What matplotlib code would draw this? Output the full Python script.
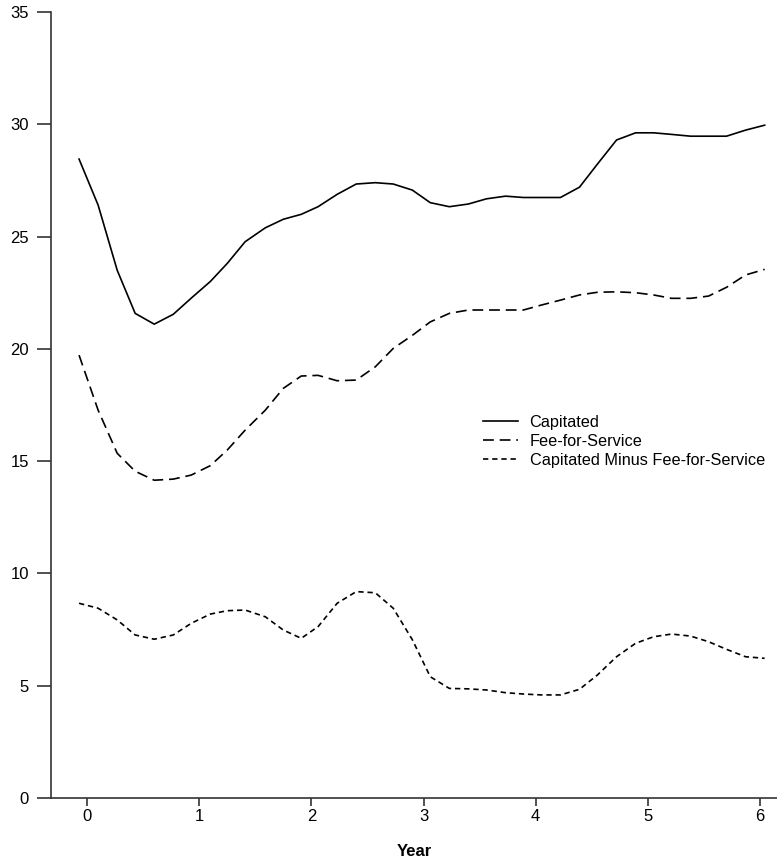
import matplotlib
matplotlib.use("Agg")
import matplotlib.pyplot as plt

plt.rcParams['font.family'] = ['Liberation Sans', 'DejaVu Sans']

# year positions of the plotted points (roughly every two months)
years = [-0.07, 0.10, 0.27, 0.43, 0.60, 0.77, 0.93, 1.10, 1.25, 1.41,
         1.59, 1.75, 1.91, 2.06, 2.23, 2.40, 2.57, 2.73, 2.90, 3.06,
         3.23, 3.40, 3.56, 3.73, 3.89, 4.05, 4.22, 4.39, 4.55, 4.72,
         4.89, 5.05, 5.21, 5.38, 5.54, 5.70, 5.87, 6.04]

capitated = [28.45, 26.4, 23.5, 21.58, 21.1, 21.54, 22.26, 23.0, 23.8, 24.77,
             25.39, 25.77, 25.99, 26.33, 26.88, 27.34, 27.4, 27.34, 27.07, 26.51,
             26.33, 26.45, 26.68, 26.80, 26.74, 26.74, 26.74, 27.2, 28.23, 29.30,
             29.62, 29.62, 29.55, 29.47, 29.47, 29.47, 29.74, 29.96]

fee_for_service = [19.72, 17.27, 15.35, 14.55, 14.15, 14.2, 14.38, 14.8, 15.49, 16.38,
                   17.27, 18.24, 18.79, 18.82, 18.58, 18.61, 19.2, 20.02, 20.6, 21.2,
                   21.58, 21.73, 21.73, 21.73, 21.73, 21.95, 22.17, 22.4, 22.52, 22.54,
                   22.5, 22.4, 22.25, 22.25, 22.35, 22.74, 23.29, 23.54]

difference = [8.67, 8.45, 7.93, 7.26, 7.07, 7.26, 7.78, 8.19, 8.34, 8.37,
              8.07, 7.48, 7.11, 7.63, 8.67, 9.19, 9.14, 8.45, 7.05, 5.4,
              4.88, 4.86, 4.81, 4.69, 4.63, 4.59, 4.59, 4.84, 5.48, 6.29,
              6.89, 7.18, 7.3, 7.21, 6.96, 6.62, 6.29, 6.22]

x_ticks = [0, 1, 2, 3, 4, 5, 6]
y_ticks = [0, 5, 10, 15, 20, 25, 30, 35]

fig = plt.figure(figsize=(7.77, 8.65), dpi=100)
ax = fig.add_axes([51/777, 1 - 798/865, 1 - 51/777, (798 - 12)/865])

ax.plot(years, capitated, color='black', lw=1.2, ls='-', label='Capitated')
ax.plot(years, fee_for_service, color='black', lw=1.2, ls=(0, (6.5, 3.5)),
        label='Fee-for-Service')
ax.plot(years, difference, color='black', lw=1.2, ls=(0, (3.2, 2.3)),
        label='Capitated Minus Fee-for-Service')

ax.set_xlim(-0.32, 6.15)
ax.set_ylim(0, 35)
ax.set_xticks(x_ticks)
ax.set_yticks(y_ticks)
ax.tick_params(axis='both', labelsize=12, color='#333333', width=1.2)
ax.tick_params(axis='x', length=6, pad=2)
ax.tick_params(axis='y', length=10, pad=6)
ax.set_xlabel('Year', fontsize=12, fontweight='bold', labelpad=14)

for side in ['top', 'right']:
    ax.spines[side].set_visible(False)
for side in ['left', 'bottom']:
    ax.spines[side].set_linewidth(1.2)
    ax.spines[side].set_color('#333333')

ax.legend(loc='center left', bbox_to_anchor=(0.595, 0.454), frameon=False,
          fontsize=11.7, handlelength=2.15, handletextpad=0.72, labelspacing=0.25,
          borderpad=0, borderaxespad=0)

fig.savefig('out.png', dpi=100)
